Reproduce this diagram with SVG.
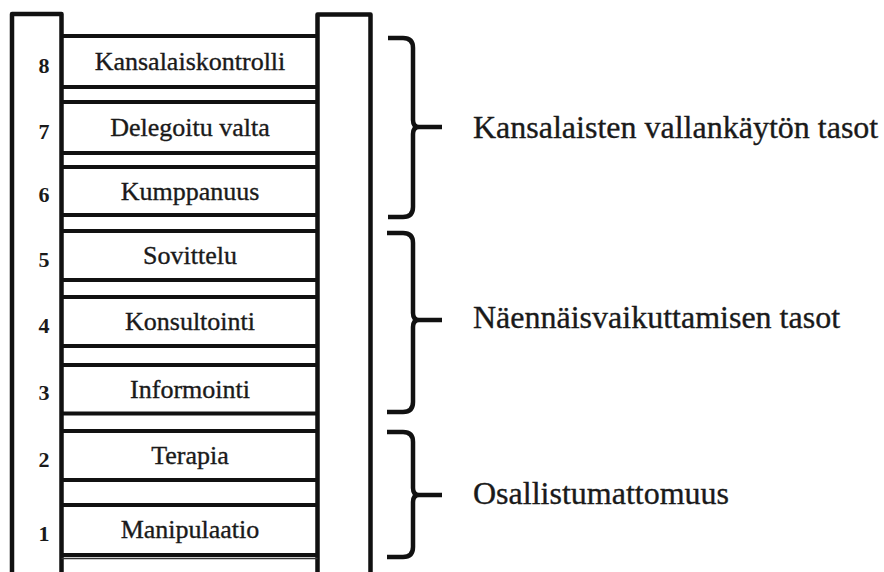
<svg xmlns="http://www.w3.org/2000/svg" width="884" height="572" viewBox="0 0 884 572">
<style>
.rail{fill:none;stroke:#111;stroke-width:4.5;stroke-linejoin:round}
.rung{stroke:#111;stroke-width:4}
.thin{stroke:#333;stroke-width:1.5}
.brace{fill:none;stroke:#111;stroke-width:4.5;stroke-linecap:butt;stroke-linejoin:round}
.lbl{font-family:"Liberation Serif","Times New Roman",serif;font-size:26px;fill:#1a1a1a;stroke:#1a1a1a;stroke-width:0.35;text-anchor:middle}
.num{font-family:"Liberation Serif","Times New Roman",serif;font-size:22px;font-weight:bold;fill:#1a1a1a;text-anchor:middle}
.grp{font-family:"Liberation Serif","Times New Roman",serif;font-size:32px;fill:#1a1a1a;stroke:#1a1a1a;stroke-width:0.35}
</style>
<rect width="884" height="572" fill="#fff"/>
<g id="ladder">
<path class="rail" d="M12,580 V14 H61.5 V580"/>
<path class="rail" d="M317.5,580 V14.5 H370.5 V580"/>
</g>
<g id="rungs">
<line class="rung" x1="61.5" y1="36" x2="317.5" y2="36"/>
<line class="rung" x1="61.5" y1="87" x2="317.5" y2="87"/>
<line class="rung" x1="61.5" y1="102" x2="317.5" y2="102"/>
<line class="rung" x1="61.5" y1="153" x2="317.5" y2="153"/>
<line class="rung" x1="61.5" y1="167" x2="317.5" y2="167"/>
<line class="rung" x1="61.5" y1="215" x2="317.5" y2="215"/>
<line class="rung" x1="61.5" y1="231" x2="317.5" y2="231"/>
<line class="rung" x1="61.5" y1="280" x2="317.5" y2="280"/>
<line class="rung" x1="61.5" y1="297" x2="317.5" y2="297"/>
<line class="rung" x1="61.5" y1="346" x2="317.5" y2="346"/>
<line class="rung" x1="61.5" y1="365" x2="317.5" y2="365"/>
<line class="rung" x1="61.5" y1="413.5" x2="317.5" y2="413.5"/>
<line class="rung" x1="61.5" y1="431" x2="317.5" y2="431"/>
<line class="rung" x1="61.5" y1="480" x2="317.5" y2="480"/>
<line class="rung" x1="61.5" y1="505" x2="317.5" y2="505"/>
<line class="rung" x1="61.5" y1="555" x2="317.5" y2="555"/>
<line class="thin" x1="61.5" y1="558.5" x2="317.5" y2="558.5"/>
</g>
<g id="level8"><text class="num" x="44" y="72.5">8</text><text class="lbl" x="190" y="70">Kansalaiskontrolli</text></g>
<g id="level7"><text class="num" x="44" y="138.5">7</text><text class="lbl" x="190" y="136">Delegoitu valta</text></g>
<g id="level6"><text class="num" x="44" y="202">6</text><text class="lbl" x="190" y="199.5">Kumppanuus</text></g>
<g id="level5"><text class="num" x="44" y="266.5">5</text><text class="lbl" x="190" y="264">Sovittelu</text></g>
<g id="level4"><text class="num" x="44" y="332.5">4</text><text class="lbl" x="190" y="330">Konsultointi</text></g>
<g id="level3"><text class="num" x="44" y="400">3</text><text class="lbl" x="190" y="397.5">Informointi</text></g>
<g id="level2"><text class="num" x="44" y="466.5">2</text><text class="lbl" x="190" y="463.5">Terapia</text></g>
<g id="level1"><text class="num" x="44" y="541">1</text><text class="lbl" x="190" y="537.5">Manipulaatio</text></g>
<g id="braces">
<path class="brace" d="M388,38 H403 Q413,38 413,48 V120 Q413,127 419,127 H442 M419,127 Q413,127 413,134 V207 Q413,217 403,217 H388"/>
<path class="brace" d="M387,233 H403 Q413,233 413,243 V313 Q413,320 419,320 H442 M419,320 Q413,320 413,327 V402 Q413,412 403,412 H387"/>
<path class="brace" d="M387,432 H403 Q413,432 413,442 V488 Q413,495 419,495 H442 M419,495 Q413,495 413,502 V547 Q413,557 403,557 H387"/>
</g>
<g id="group-citizen"><text class="grp" x="473" y="138">Kansalaisten vallankäytön tasot</text></g>
<g id="group-tokenism"><text class="grp" x="473" y="328">Näennäisvaikuttamisen tasot</text></g>
<g id="group-nonparticipation"><text class="grp" x="473" y="504">Osallistumattomuus</text></g>
</svg>
